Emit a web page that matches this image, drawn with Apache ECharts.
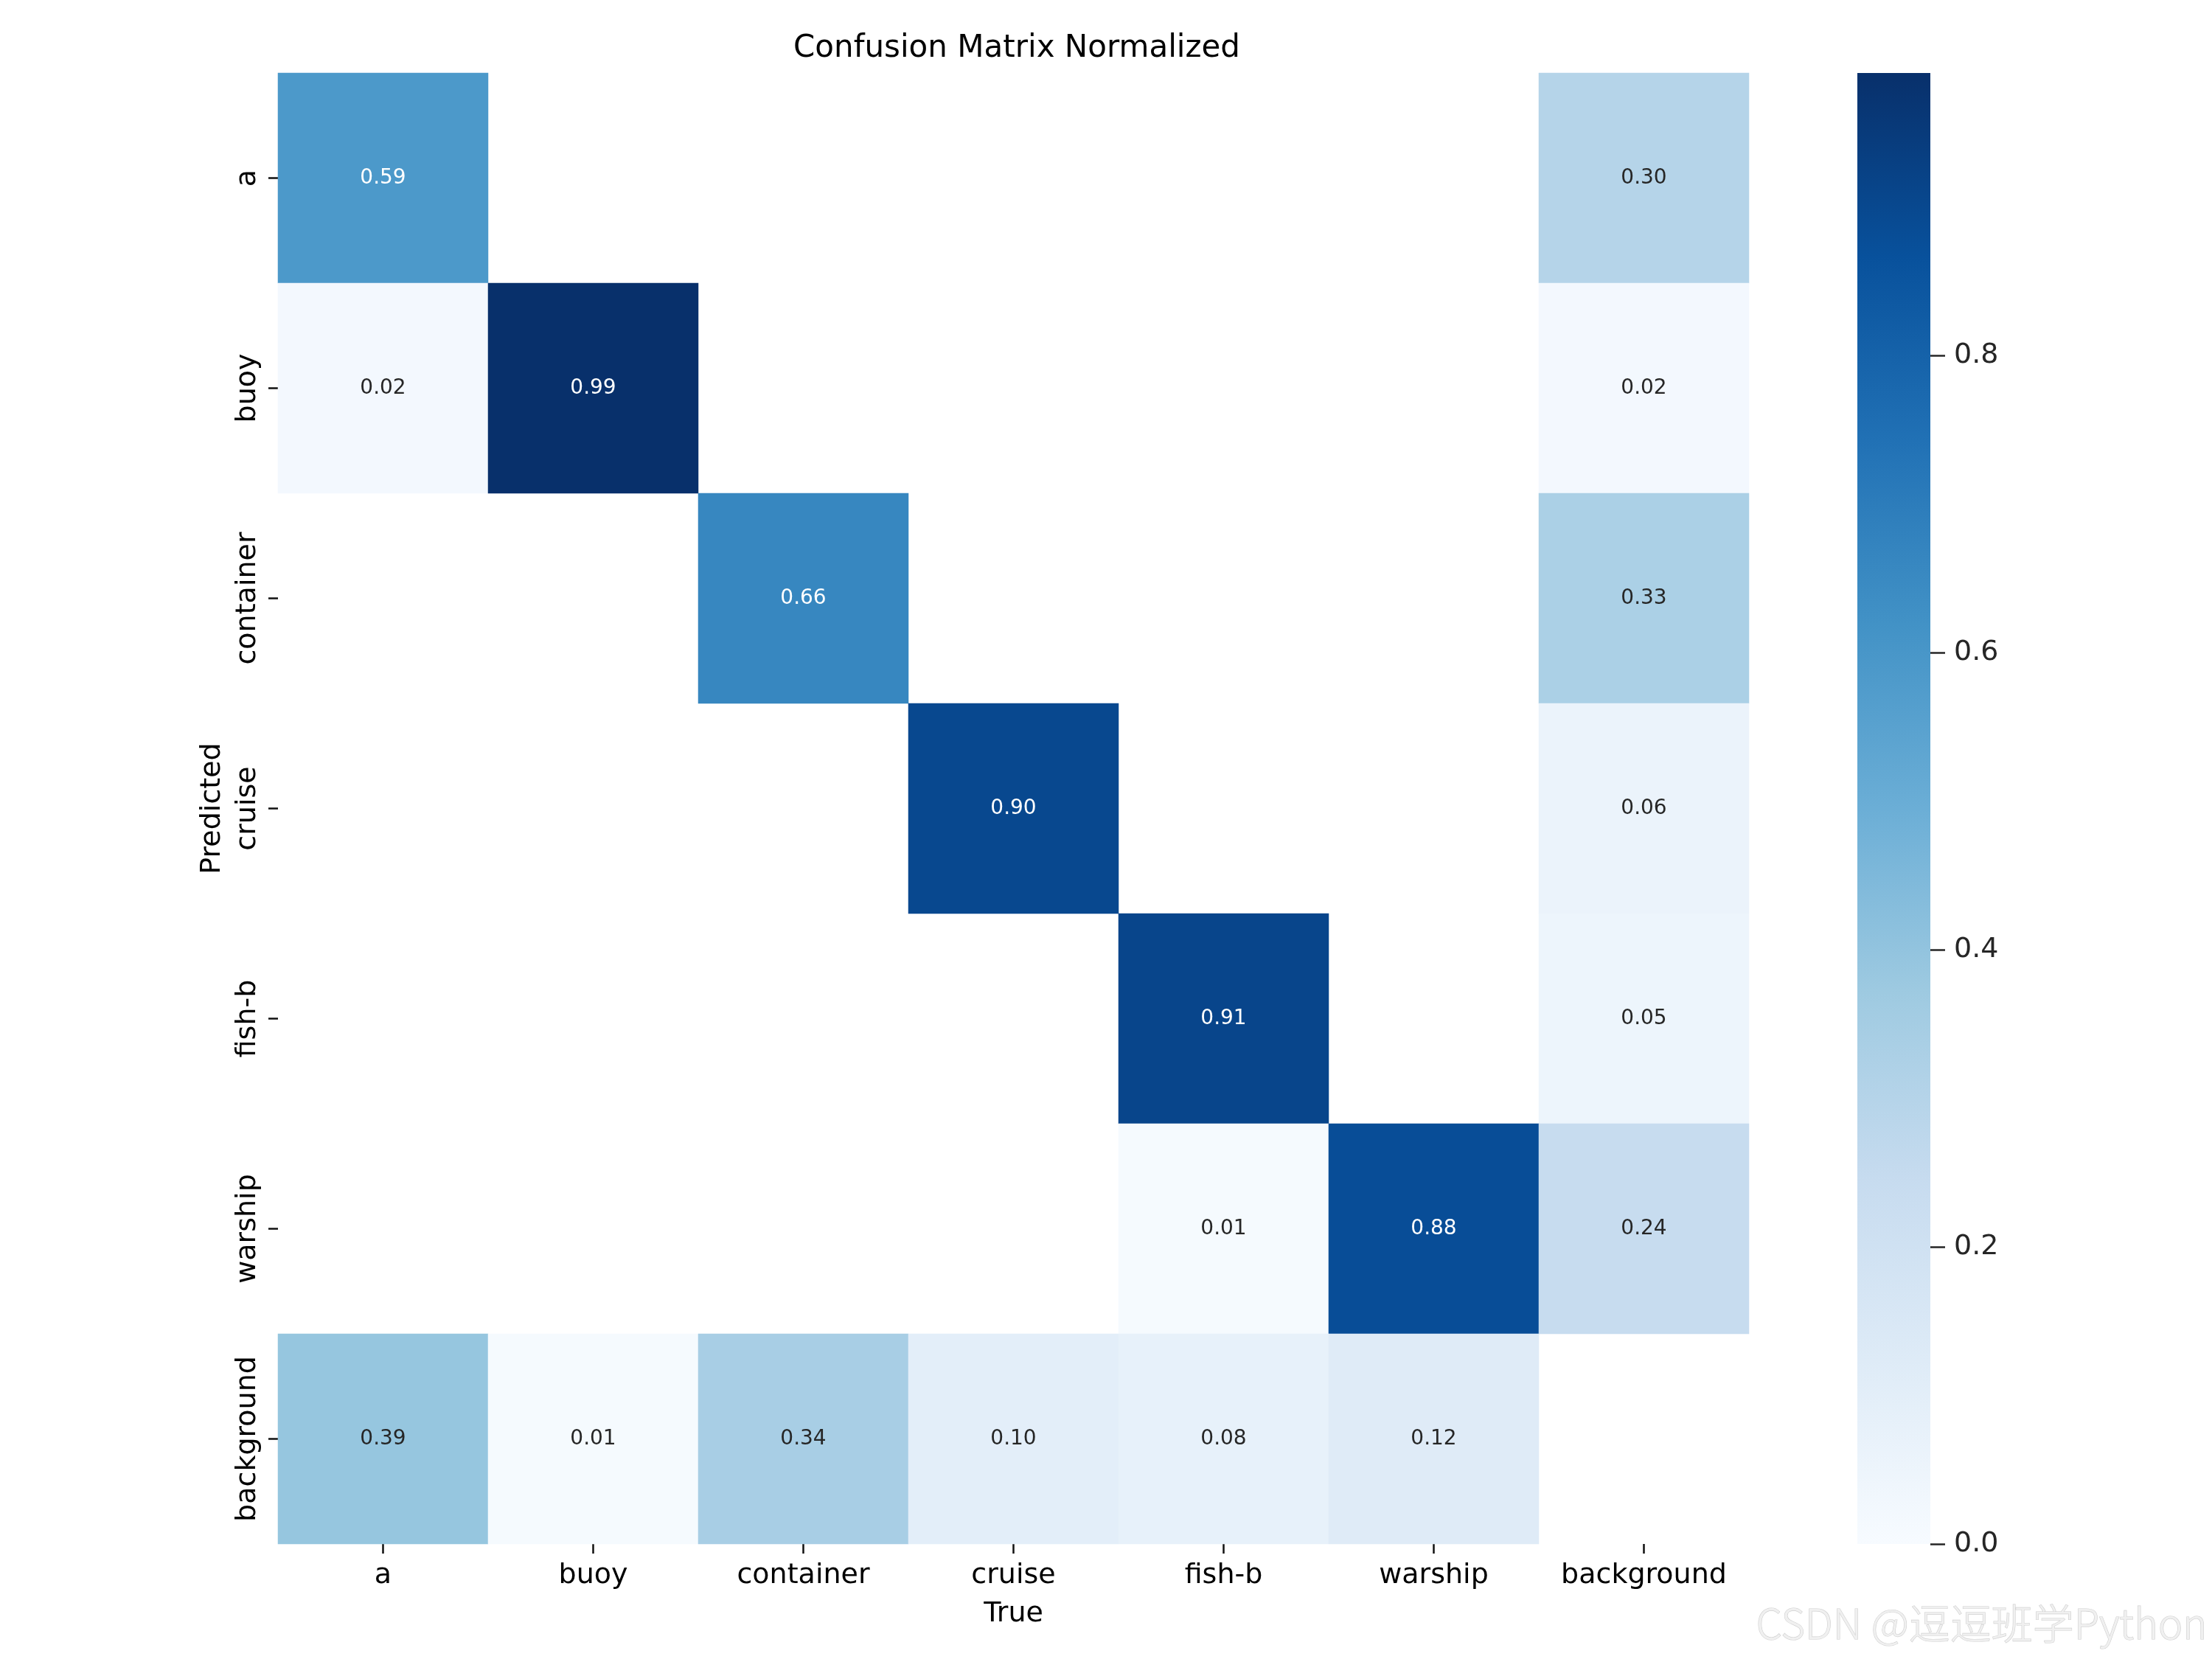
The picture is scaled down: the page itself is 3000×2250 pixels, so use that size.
<!DOCTYPE html>
<html>
<head>
<meta charset="utf-8">
<script src="https://cdn.jsdelivr.net/npm/echarts@6/dist/echarts.min.js"></script>
<style>
html,body{margin:0;padding:0;background:#fff;}
#chart{width:3000px;height:2250px;}
</style>
</head>
<body>
<div id="chart"></div>
<script>
const trueLabels = ['a', 'buoy', 'container', 'cruise', 'fish-b', 'warship', 'background'];
const predLabels = ['a', 'buoy', 'container', 'cruise', 'fish-b', 'warship', 'background'];
// rows = predicted, columns = true
const rowA          = [0.59, null, null, null, null, null, 0.30];
const rowBuoy       = [0.02, 0.99, null, null, null, null, 0.02];
const rowContainer  = [null, null, 0.66, null, null, null, 0.33];
const rowCruise     = [null, null, null, 0.90, null, null, 0.06];
const rowFishB      = [null, null, null, null, 0.91, null, 0.05];
const rowWarship    = [null, null, null, null, 0.01, 0.88, 0.24];
const rowBackground = [0.39, 0.01, 0.34, 0.10, 0.08, 0.12, null];
const colorbarTicks = [0, 0.2, 0.4, 0.6, 0.8];
const vmin = 0, vmax = 0.99;

const matrixRows = [rowA, rowBuoy, rowContainer, rowCruise, rowFishB, rowWarship, rowBackground];
const blues = ['#f7fbff','#deebf7','#c6dbef','#9ecae1','#6baed6','#4292c6','#2171b5','#08519c','#08306b'];

const heatData = [];
matrixRows.forEach((row, r) => {
  row.forEach((v, c) => {
    if (v !== null) {
      heatData.push({
        value: [c, r, v],
        label: { color: v > 0.5 ? '#ffffff' : '#262626' }
      });
    }
  });
});

const FONT = 'DejaVu Sans';
const chart = echarts.init(document.getElementById('chart'), null, { renderer: 'canvas' });

const option = {
  backgroundColor: '#ffffff',
  animation: false,
  title: {
    text: 'Confusion Matrix Normalized',
    left: 1374, top: 40, textAlign: 'center',
    textStyle: { fontFamily: FONT, fontSize: 42, fontWeight: 'normal', color: '#000000' }
  },
  grid: [
    { left: 377, top: 99, width: 1995, height: 1995 },
    { left: 2519, top: 99, width: 99, height: 1995 }
  ],
  xAxis: [
    {
      type: 'category', gridIndex: 0, data: trueLabels, position: 'bottom',
      axisLine: { show: false },
      axisTick: { show: true, alignWithLabel: true, interval: 0, length: 13, lineStyle: { color: '#111111', width: 2.5 } },
      axisLabel: { fontFamily: FONT, fontSize: 38, color: '#000000', margin: 24, interval: 0 },
      splitLine: { show: false },
      name: 'True', nameLocation: 'middle', nameGap: 76,
      nameTextStyle: { fontFamily: FONT, fontSize: 38, color: '#000000' }
    },
    {
      type: 'category', gridIndex: 1, data: [''], show: false
    }
  ],
  yAxis: [
    {
      type: 'category', gridIndex: 0, data: predLabels, inverse: true,
      axisLine: { show: false },
      axisTick: { show: true, alignWithLabel: true, interval: 0, length: 13, lineStyle: { color: '#111111', width: 2.5 } },
      axisLabel: { fontFamily: FONT, fontSize: 38, color: '#000000', rotate: 90, margin: 22, interval: 0 },
      splitLine: { show: false },
      name: 'Predicted', nameLocation: 'middle', nameGap: 70, nameRotate: 90,
      nameTextStyle: { fontFamily: FONT, fontSize: 38, color: '#000000' }
    },
    {
      type: 'value', gridIndex: 1, min: vmin, max: vmax, position: 'right',
      axisLine: { show: false },
      splitLine: { show: false },
      axisTick: { show: true, length: 20, customValues: colorbarTicks, lineStyle: { color: '#262626', width: 2.5 } },
      axisLabel: { fontFamily: FONT, fontSize: 38, color: '#262626', margin: 32,
        customValues: colorbarTicks, formatter: v => v.toFixed(1) }
    }
  ],
  visualMap: {
    show: false, seriesIndex: 0, min: vmin, max: vmax, dimension: 2,
    inRange: { color: blues }
  },
  series: [
    {
      type: 'heatmap', xAxisIndex: 0, yAxisIndex: 0, data: heatData,
      label: { show: true, fontFamily: FONT, fontSize: 28, formatter: p => p.value[2].toFixed(2) },
      itemStyle: { borderWidth: 0 },
      emphasis: { disabled: true }
    },
    {
      type: 'bar', xAxisIndex: 1, yAxisIndex: 1, data: [vmax], barWidth: '100%',
      itemStyle: {
        color: new echarts.graphic.LinearGradient(0, 1, 0, 0,
          blues.map((c, i) => ({ offset: i / (blues.length - 1), color: c })))
      },
      silent: true
    }
  ],
  graphic: [
    {
      type: 'text', right: 6, bottom: 20,
      style: {
        text: 'CSDN @逗逗班学Python',
        font: '300 56px "Noto Sans CJK SC", "Liberation Sans"',
        fill: '#f0f0f0', stroke: '#cfcfcf', lineWidth: 1.2,
        shadowColor: 'rgba(0,0,0,0.10)', shadowBlur: 2, shadowOffsetX: 1, shadowOffsetY: 1
      }
    }
  ]
};
chart.setOption(option);
</script>
</body>
</html>
